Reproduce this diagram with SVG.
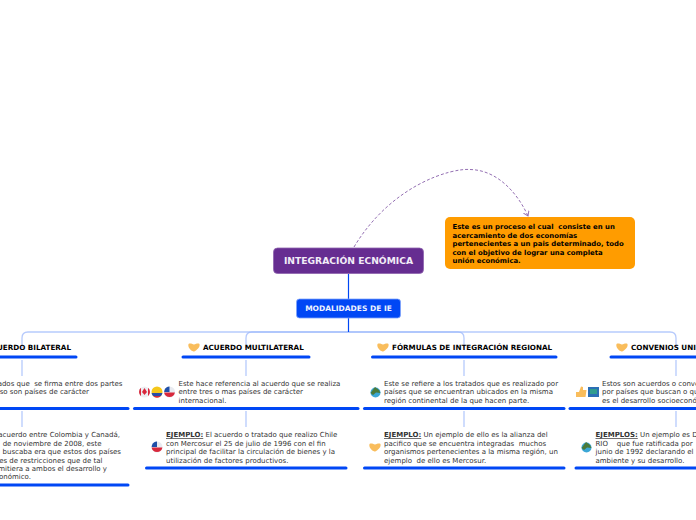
<svg xmlns="http://www.w3.org/2000/svg" width="696" height="520" viewBox="0 0 696 520">
<style>
text{font-family:"DejaVu Sans",Verdana,sans-serif;white-space:pre}
.b{font-size:7px;fill:#333}
.e{font-weight:bold;text-decoration:underline}
.h{font-size:7.2px;font-weight:bold;fill:#000}
.o{font-size:6.9px;font-weight:bold;fill:#000}
.u{stroke:#0047f5;stroke-width:3;stroke-linecap:round;fill:none}
.c{stroke:#9db8fb;stroke-opacity:.75;stroke-width:1.3;fill:none}
.m{stroke:#0047f5;stroke-width:1.2;fill:none}
.s{fill:#f9bd5c}
</style>
<defs>
<marker id="a" markerWidth="8" markerHeight="8" refX="5" refY="3.5" orient="auto" markerUnits="userSpaceOnUse"><path d="M0.500 0.500L5 3.500L0.500 6.500" fill="none" stroke="#9470b3" stroke-width="1"/></marker>
<g id="hand"><path class="s" d="M0.500 1C2 0 4 1 6 1.500C8 1 10 0 11.500 1C12 3 11 5 9 6.500C7.500 8 6.500 8.500 5.500 8.500C4 8 2.500 7 1.500 5.500C0.500 4 0 2.500 0.500 1Z"/></g>
<g id="globe"><circle cx="5.500" cy="6" r="5" fill="#3ba7d6"/><path d="M0.600 6.500L5 0.500L9 3.500L10.500 6.500L6 6L3 8.500Z" fill="#4a7a3a"/></g>
<g id="chile"><circle cx="5.500" cy="5.500" r="5.500" fill="#e8eaf0"/><path d="M0.100 6H10.900A5.500 5.500 0 0 1 0.100 6Z" fill="#d8283c"/><path d="M0.500 3.500A5.500 5.500 0 0 1 5.500 0V5.500H0.100Z" fill="#1f4fa8"/></g>
</defs>
<g id="connectors">
<path class="c" d="M348.500 332H28Q22 332 22 338V348"/>
<path class="c" d="M348.500 332H252Q246 332 246 338V348"/>
<path class="c" d="M348.500 332H458Q464 332 464 338V348"/>
<path class="c" d="M348.500 332H670Q676 332 676 338V348"/>
<path class="c" d="M22 360V376M22 411V427M246 360V376M246 411V427M464 360V376M464 411V427M676 360V376M676 411V427"/>
<path class="m" d="M348.500 274V299M348.500 318V332"/>
<path d="M354 247C392 184 452 168 470 169.500C498 170 518 194 528 216" fill="none" stroke="#9470b3" stroke-width="1" stroke-dasharray="3 2" marker-end="url(#a)"/>
</g>
<g id="n-root"><rect x="273.500" y="248" width="150" height="25.500" rx="4" fill="#662d91" stroke="#8e63ad" stroke-width=".8"/><text x="348.500" y="264" text-anchor="middle" font-size="9.200" font-weight="bold" fill="#f2ecf7">INTEGRACIÓN ECNÓMICA</text></g>
<g id="n-modal"><rect x="296.500" y="299" width="104" height="19" rx="3" fill="#0047f5" stroke="#7fa3fb" stroke-width=".8"/><text x="348.500" y="311" text-anchor="middle" font-size="7.500" font-weight="bold" fill="#eef3ff">MODALIDADES DE IE</text></g>
<g id="n-def"><rect x="445" y="217" width="190" height="52" rx="5" fill="#ff9c00"/>
<text class="o" x="452.500" y="229">Este es un proceso el cual  consiste en un</text>
<text class="o" x="452.500" y="237.500">acercamiento de dos economías</text>
<text class="o" x="452.500" y="246">pertenecientes a un pais determinado, todo</text>
<text class="o" x="452.500" y="254.500">con el objetivo de lograr una completa</text>
<text class="o" x="452.500" y="263">unión económica.</text></g>
<g id="n-bilateral"><text class="h" x="71" y="350" text-anchor="end">ACUERDO BILATERAL</text><path class="u" d="M-5 357H76"/></g>
<g id="n-bil-def"><text class="b" x="122.500" y="386" text-anchor="end">ados que  se firma entre dos partes</text><text class="b" x="89" y="394" text-anchor="end">so son países de carácter</text><path class="u" d="M-5 408.500H128"/></g>
<g id="n-bil-ej"><text class="b" x="120" y="437" text-anchor="end">acuerdo entre Colombia y Canadá,</text><text class="b" x="101.500" y="445.500" text-anchor="end">de noviembre de 2008, este</text><text class="b" x="121" y="454" text-anchor="end">buscaba era que estos dos países</text><text class="b" x="102.500" y="462.500" text-anchor="end">es de restricciones que de tal</text><text class="b" x="107" y="471" text-anchor="end">mitiera a ambos el desarrollo y</text><text class="b" x="31" y="479" text-anchor="end">onómico.</text><path class="u" d="M-5 485H128"/></g>
<g id="n-multi"><use href="#hand" x="188" y="343"/><text class="h" x="203" y="350">ACUERDO MULTILATERAL</text><path class="u" d="M183 357H309"/></g>
<g id="n-multi-def"><circle cx="144.500" cy="392" r="5.500" fill="#eceef2"/><path d="M142 392L144.500 388L147 392L144.500 395Z" fill="#d8283c"/><path d="M139 392A5.500 5.500 0 0 1 141 387.800V396.200A5.500 5.500 0 0 1 139 392ZM150 392A5.500 5.500 0 0 0 148 387.800V396.200A5.500 5.500 0 0 0 150 392Z" fill="#d8283c"/><circle cx="157" cy="392" r="5.500" fill="#f5c71a"/><path d="M151.600 393H162.400A5.500 5.500 0 0 1 161 396H153A5.500 5.500 0 0 1 151.600 393Z" fill="#2a4ea6"/><path d="M153 396H161A5.500 5.500 0 0 1 153 396Z" fill="#d8283c"/><use href="#chile" x="164" y="386.500"/><text class="b" x="178.500" y="386">Este hace referencia al acuerdo que se realiza</text><text class="b" x="178.500" y="394">entre tres o mas países de carácter</text><text class="b" x="178.500" y="403">internacional.</text><path class="u" d="M134.500 408.500H358"/></g>
<g id="n-multi-ej"><use href="#chile" x="151.500" y="441.500"/><text class="b" x="166" y="437"><tspan class="e">EJEMPLO:</tspan> El acuerdo o tratado que realizo Chile</text><text class="b" x="166" y="445.500">con Mercosur el 25 de julio de 1996 con el fin</text><text class="b" x="166" y="454">principal de facilitar la circulación de bienes y la</text><text class="b" x="166" y="462.500">utilización de factores productivos.</text><path class="u" d="M146.500 468H346"/></g>
<g id="n-reg"><use href="#hand" x="377" y="343"/><text class="h" x="392" y="350">FÓRMULAS DE INTEGRACIÓN REGIONAL</text><path class="u" d="M372.500 357H556"/></g>
<g id="n-reg-def"><use href="#globe" x="370" y="386.500"/><text class="b" x="384" y="386">Este se refiere a los tratados que es realizado por</text><text class="b" x="384" y="394">países que se encuentran ubicados en la misma</text><text class="b" x="384" y="403">región continental de la que hacen parte.</text><path class="u" d="M364.500 408.500H564"/></g>
<g id="n-reg-ej"><use href="#hand" x="369" y="443"/><text class="b" x="384" y="437"><tspan class="e">EJEMPLO:</tspan> Un ejemplo de ello es la alianza del</text><text class="b" x="384" y="445.500">pacifico que se encuentra integradas  muchos</text><text class="b" x="384" y="454">organismos pertenecientes a la misma región, un</text><text class="b" x="384" y="462.500">ejemplo  de ello es Mercosur.</text><path class="u" d="M364.500 468H564"/></g>
<g id="n-conv"><use href="#hand" x="616" y="343"/><text class="h" x="631" y="350">CONVENIOS UNI</text><path class="u" d="M611 357H701"/></g>
<g id="n-conv-def"><path class="s" d="M576 392H579L581 386.500L583 387L583 390H586.500L585.500 397H576Z"/><rect x="588" y="387" width="11" height="10" fill="#2b6fb5"/><rect x="590" y="389" width="7" height="5" fill="#2f9c8f"/><text class="b" x="602" y="386">Estos son acuerdos o conve</text><text class="b" x="602" y="394">por países que buscan o qu</text><text class="b" x="602" y="403">es el desarrollo socioeconó</text><path class="u" d="M570 408.500H701"/></g>
<g id="n-conv-ej"><use href="#globe" x="581" y="441.500"/><text class="b" x="595.500" y="437"><tspan class="e">EJEMPLOS:</tspan> Un ejemplo es D</text><text class="b" x="595.500" y="445.500">RIO    que fue ratificada por</text><text class="b" x="595.500" y="454">junio de 1992 declarando el</text><text class="b" x="595.500" y="462.500">ambiente y su desarrollo.</text><path class="u" d="M576 468H701"/></g>
</svg>
